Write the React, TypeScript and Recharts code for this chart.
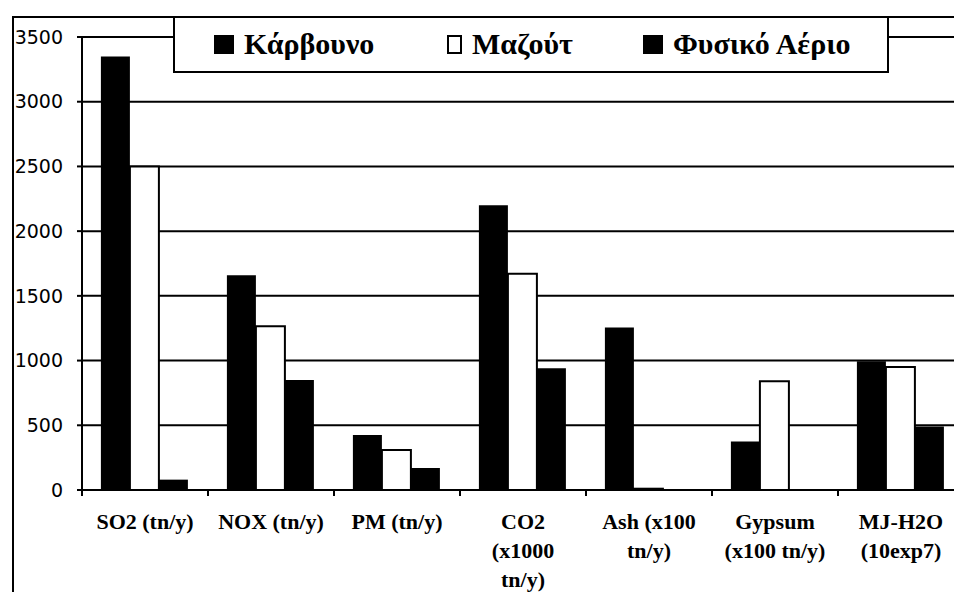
import { BarChart, Bar, XAxis, YAxis, CartesianGrid } from 'recharts';

const categories = [
  ['SO2 (tn/y)'],
  ['NOX (tn/y)'],
  ['PM (tn/y)'],
  ['CO2', '(x1000', 'tn/y)'],
  ['Ash (x100', 'tn/y)'],
  ['Gypsum', '(x100 tn/y)'],
  ['MJ-H2O', '(10exp7)'],
];

const coal = [3350, 1660, 425, 2200, 1255, 375, 995];
const oil = [2500, 1265, 310, 1670, 10, 840, 950];
const gas = [80, 850, 170, 940, 0, 0, 490];

const yTicks = [0, 500, 1000, 1500, 2000, 2500, 3000, 3500];

const seriesNames = ['Κάρβουνο', 'Μαζούτ', 'Φυσικό Αέριο'];

const data = categories.map((lines, i) => ({
  name: lines.join(' '),
  coal: coal[i],
  oil: oil[i],
  gas: gas[i],
}));

const serif = '"Liberation Serif", "DejaVu Serif", serif';

function CategoryTick(props: any) {
  const { x, y, payload, index } = props;
  const half = payload?.offset ?? 63;
  const lines = categories[index] ?? [payload.value];
  return (
    <g>
      <line x1={x - half} x2={x - half} y1={y - 8} y2={y - 2} stroke="#000" strokeWidth={2} />
      <text
        x={x}
        y={y + 31}
        textAnchor="middle"
        fontFamily={serif}
        fontWeight="bold"
        fontSize={22}
        fill="#000"
      >
        {lines.map((l: string, i: number) => (
          <tspan key={i} x={x} dy={i === 0 ? 0 : 29}>
            {l}
          </tspan>
        ))}
      </text>
    </g>
  );
}

function LegendBox() {
  const swatches = [
    { fill: '#000', left: 39, w: 20 },
    { fill: '#fff', left: 272, w: 15 },
    { fill: '#000', left: 468, w: 20 },
  ];
  return (
    <div
      style={{
        position: 'absolute',
        left: 173,
        top: 16,
        width: 716,
        height: 57,
        boxSizing: 'border-box',
        border: '2px solid #000',
        background: '#fff',
      }}
    >
      {seriesNames.map((n, i) => (
        <div
          key={n}
          style={{
            position: 'absolute',
            left: swatches[i].left,
            top: 9,
            display: 'flex',
            alignItems: 'center',
            whiteSpace: 'nowrap',
          }}
        >
          <span
            style={{
              display: 'inline-block',
              width: swatches[i].w,
              height: 19,
              background: swatches[i].fill,
              border: swatches[i].fill === '#fff' ? '2px solid #000' : 'none',
              boxSizing: 'border-box',
              marginRight: 10,
            }}
          />
          <span style={{ fontFamily: serif, fontWeight: 'bold', fontSize: 30, color: '#000' }}>{n}</span>
        </div>
      ))}
    </div>
  );
}

export default function App() {
  return (
    <div style={{ position: 'absolute', left: 0, top: 0, width: 954, height: 592, background: '#fff', overflow: 'hidden' }}>
      <div
        style={{
          position: 'absolute',
          left: 12,
          top: 16,
          width: 960,
          height: 600,
          borderLeft: '2px solid #000',
          borderTop: '2px solid #000',
        }}
      />
      <BarChart
        width={954}
        height={592}
        data={data}
        margin={{ top: 37, right: -10, bottom: 0, left: 0 }}
        barCategoryGap="15%"
        barGap={0}
        style={{ position: 'absolute', left: 0, top: 0 }}
      >
        <CartesianGrid vertical={false} stroke="#000" strokeWidth={2} />
        <XAxis
          dataKey="name"
          interval={0}
          height={102}
          tickLine={false}
          axisLine={{ stroke: '#000', strokeWidth: 2 }}
          tick={<CategoryTick />}
        />
        <YAxis
          width={82}
          domain={[0, 3500]}
          ticks={yTicks}
          interval={0}
          tickSize={5}
          tickMargin={14}
          axisLine={{ stroke: '#000', strokeWidth: 2 }}
          tickLine={{ stroke: '#000', strokeWidth: 2 }}
          tick={{ fill: '#000', fontSize: 19, fontFamily: '"DejaVu Sans", sans-serif' }}
        />
        <Bar dataKey="coal" name={seriesNames[0]} fill="#000" isAnimationActive={false} />
        <Bar dataKey="oil" name={seriesNames[1]} fill="#fff" stroke="#000" strokeWidth={2} isAnimationActive={false} />
        <Bar dataKey="gas" name={seriesNames[2]} fill="#000" isAnimationActive={false} />
      </BarChart>
      <LegendBox />
    </div>
  );
}
